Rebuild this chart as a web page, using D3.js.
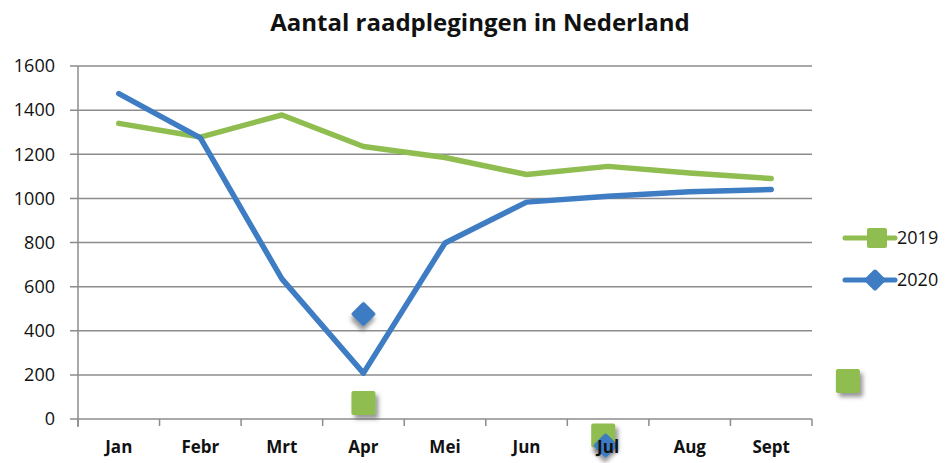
<!DOCTYPE html>
<html>
<head>
<meta charset="utf-8">
<script src="https://cdn.jsdelivr.net/npm/d3@7"></script>
<style>
  body { margin: 0; background: #fff; }
  svg { display: block; font-family: "Open Sans", "Noto Sans", sans-serif; }
</style>
</head>
<body>
<div id="chart"></div>
<script>
// data
let months = ["Jan", "Febr", "Mrt", "Apr", "Mei", "Jun", "Jul", "Aug", "Sept"]
let values2019 = [1340, 1278, 1378, 1235, 1185, 1108, 1145, 1115, 1090]
let values2020 = [1475, 1274, 635, 208, 798, 983, 1010, 1030, 1040]
let yTicks = [0, 200, 400, 600, 800, 1000, 1200, 1400, 1600]
// losse markers die in het origineel ook staan (positie = maandindex)
let strayDiamonds = [{ pos: 3, value: 476 }, { pos: 5.97, value: -120 }]
let straySquares = [{ pos: 3, value: 73 }, { pos: 5.94, value: -75 }, { pos: 8.94, value: 172 }]

let width = 947, height = 463
let margin = { top: 66, right: 135, bottom: 44, left: 78 }

let svg = d3.select("#chart").append("svg")
    .attr("width", width)
    .attr("height", height)

let defs = svg.append("defs")
let filter = defs.append("filter").attr("id", "shadow")
    .attr("x", "-50%").attr("y", "-50%").attr("width", "200%").attr("height", "200%")
filter.append("feDropShadow")
    .attr("dx", 3).attr("dy", 4).attr("stdDeviation", 2)
    .attr("flood-color", "#555").attr("flood-opacity", 0.6)

let x = d3.scaleBand()
    .domain(months)
    .range([margin.left, width - margin.right])
    .padding(0)
let y = d3.scaleLinear()
    .domain([0, 1600])
    .range([height - margin.bottom, margin.top])

let posX = p => x.range()[0] + x.step() * (p + 0.5)

// gridlijnen
svg.selectAll(".grid")
    .data(yTicks)
    .enter()
    .append("line")
    .attr("class", "grid")
    .attr("x1", margin.left - 8)
    .attr("x2", width - margin.right)
    .attr("y1", d => y(d))
    .attr("y2", d => y(d))
    .attr("stroke", "#8c8c8c")
    .attr("stroke-width", 1.5)

// y-as
svg.append("line")
    .attr("x1", margin.left).attr("x2", margin.left)
    .attr("y1", y(1600)).attr("y2", y(0) + 8)
    .attr("stroke", "#8c8c8c").attr("stroke-width", 1.5)

svg.selectAll(".ylabel")
    .data(yTicks)
    .enter()
    .append("text")
    .attr("class", "ylabel")
    .attr("x", 55)
    .attr("y", d => y(d))
    .attr("dy", "0.35em")
    .attr("text-anchor", "end")
    .style("font-size", "18px")
    .attr("fill", "#111")
    .text(d => d)

// x-as ticks
let tickPos = d3.range(months.length + 1).map(i => x.range()[0] + i * x.step())
svg.selectAll(".xtick")
    .data(tickPos)
    .enter()
    .append("line")
    .attr("x1", d => d).attr("x2", d => d)
    .attr("y1", y(0)).attr("y2", y(0) + 7)
    .attr("stroke", "#8c8c8c").attr("stroke-width", 1.5)

// titel
svg.append("text")
    .attr("x", 480)
    .attr("y", 31)
    .attr("text-anchor", "middle")
    .style("font-size", "24px")
    .style("font-weight", "bold")
    .attr("fill", "#111")
    .text("Aantal raadplegingen in Nederland")

let green = "#8fbd4f", blue = "#3e7cc3"

let line = d3.line()
    .x((d, i) => x(months[i]) + x.bandwidth() / 2)
    .y(d => y(d))

svg.append("path")
    .datum(values2019)
    .attr("d", line)
    .attr("fill", "none")
    .attr("stroke", green)
    .attr("stroke-width", 5.5)
    .attr("stroke-linecap", "round")
    .attr("stroke-linejoin", "round")

svg.append("path")
    .datum(values2020)
    .attr("d", line)
    .attr("fill", "none")
    .attr("stroke", blue)
    .attr("stroke-width", 5.5)
    .attr("stroke-linecap", "round")
    .attr("stroke-linejoin", "round")

// losse markers
svg.selectAll(".sq")
    .data(straySquares)
    .enter()
    .append("rect")
    .attr("x", d => posX(d.pos) - 12)
    .attr("y", d => y(d.value) - 12)
    .attr("width", 24)
    .attr("height", 24)
    .attr("rx", 2)
    .attr("fill", green)
    .attr("filter", "url(#shadow)")

svg.selectAll(".dm")
    .data(strayDiamonds)
    .enter()
    .append("rect")
    .attr("x", -9)
    .attr("y", -9)
    .attr("width", 18)
    .attr("height", 18)
    .attr("rx", 2)
    .attr("transform", d => "translate(" + posX(d.pos) + "," + y(d.value) + ") rotate(45)")
    .attr("fill", blue)
    .attr("filter", "url(#shadow)")

// maandlabels boven de markers
svg.selectAll(".xlabel")
    .data(months)
    .enter()
    .append("text")
    .attr("x", d => x(d) + x.bandwidth() / 2)
    .attr("y", 453)
    .attr("text-anchor", "middle")
    .style("font-size", "17px")
    .style("font-weight", "bold")
    .attr("fill", "#111")
    .text(d => d)

// legenda
let legend = [{ name: "2019", color: green, shape: "square", y: 238 },
              { name: "2020", color: blue, shape: "diamond", y: 280 }]
let lg = svg.selectAll(".legend")
    .data(legend)
    .enter()
    .append("g")
    .attr("transform", d => "translate(845," + d.y + ")")
lg.append("line")
    .attr("x1", 0).attr("x2", 50)
    .attr("stroke", d => d.color)
    .attr("stroke-width", 5)
    .attr("stroke-linecap", "round")
lg.filter(d => d.shape === "square").append("rect")
    .attr("x", 22).attr("y", -10).attr("width", 20).attr("height", 20).attr("rx", 2)
    .attr("fill", d => d.color)
lg.filter(d => d.shape === "diamond").append("rect")
    .attr("x", -8).attr("y", -8).attr("width", 16).attr("height", 16).attr("rx", 2)
    .attr("transform", "translate(30,0) rotate(45)")
    .attr("fill", d => d.color)
lg.append("text")
    .attr("x", 52)
    .attr("dy", "0.35em")
    .style("font-size", "18px")
    .attr("fill", "#111")
    .text(d => d.name)
</script>
</body>
</html>
